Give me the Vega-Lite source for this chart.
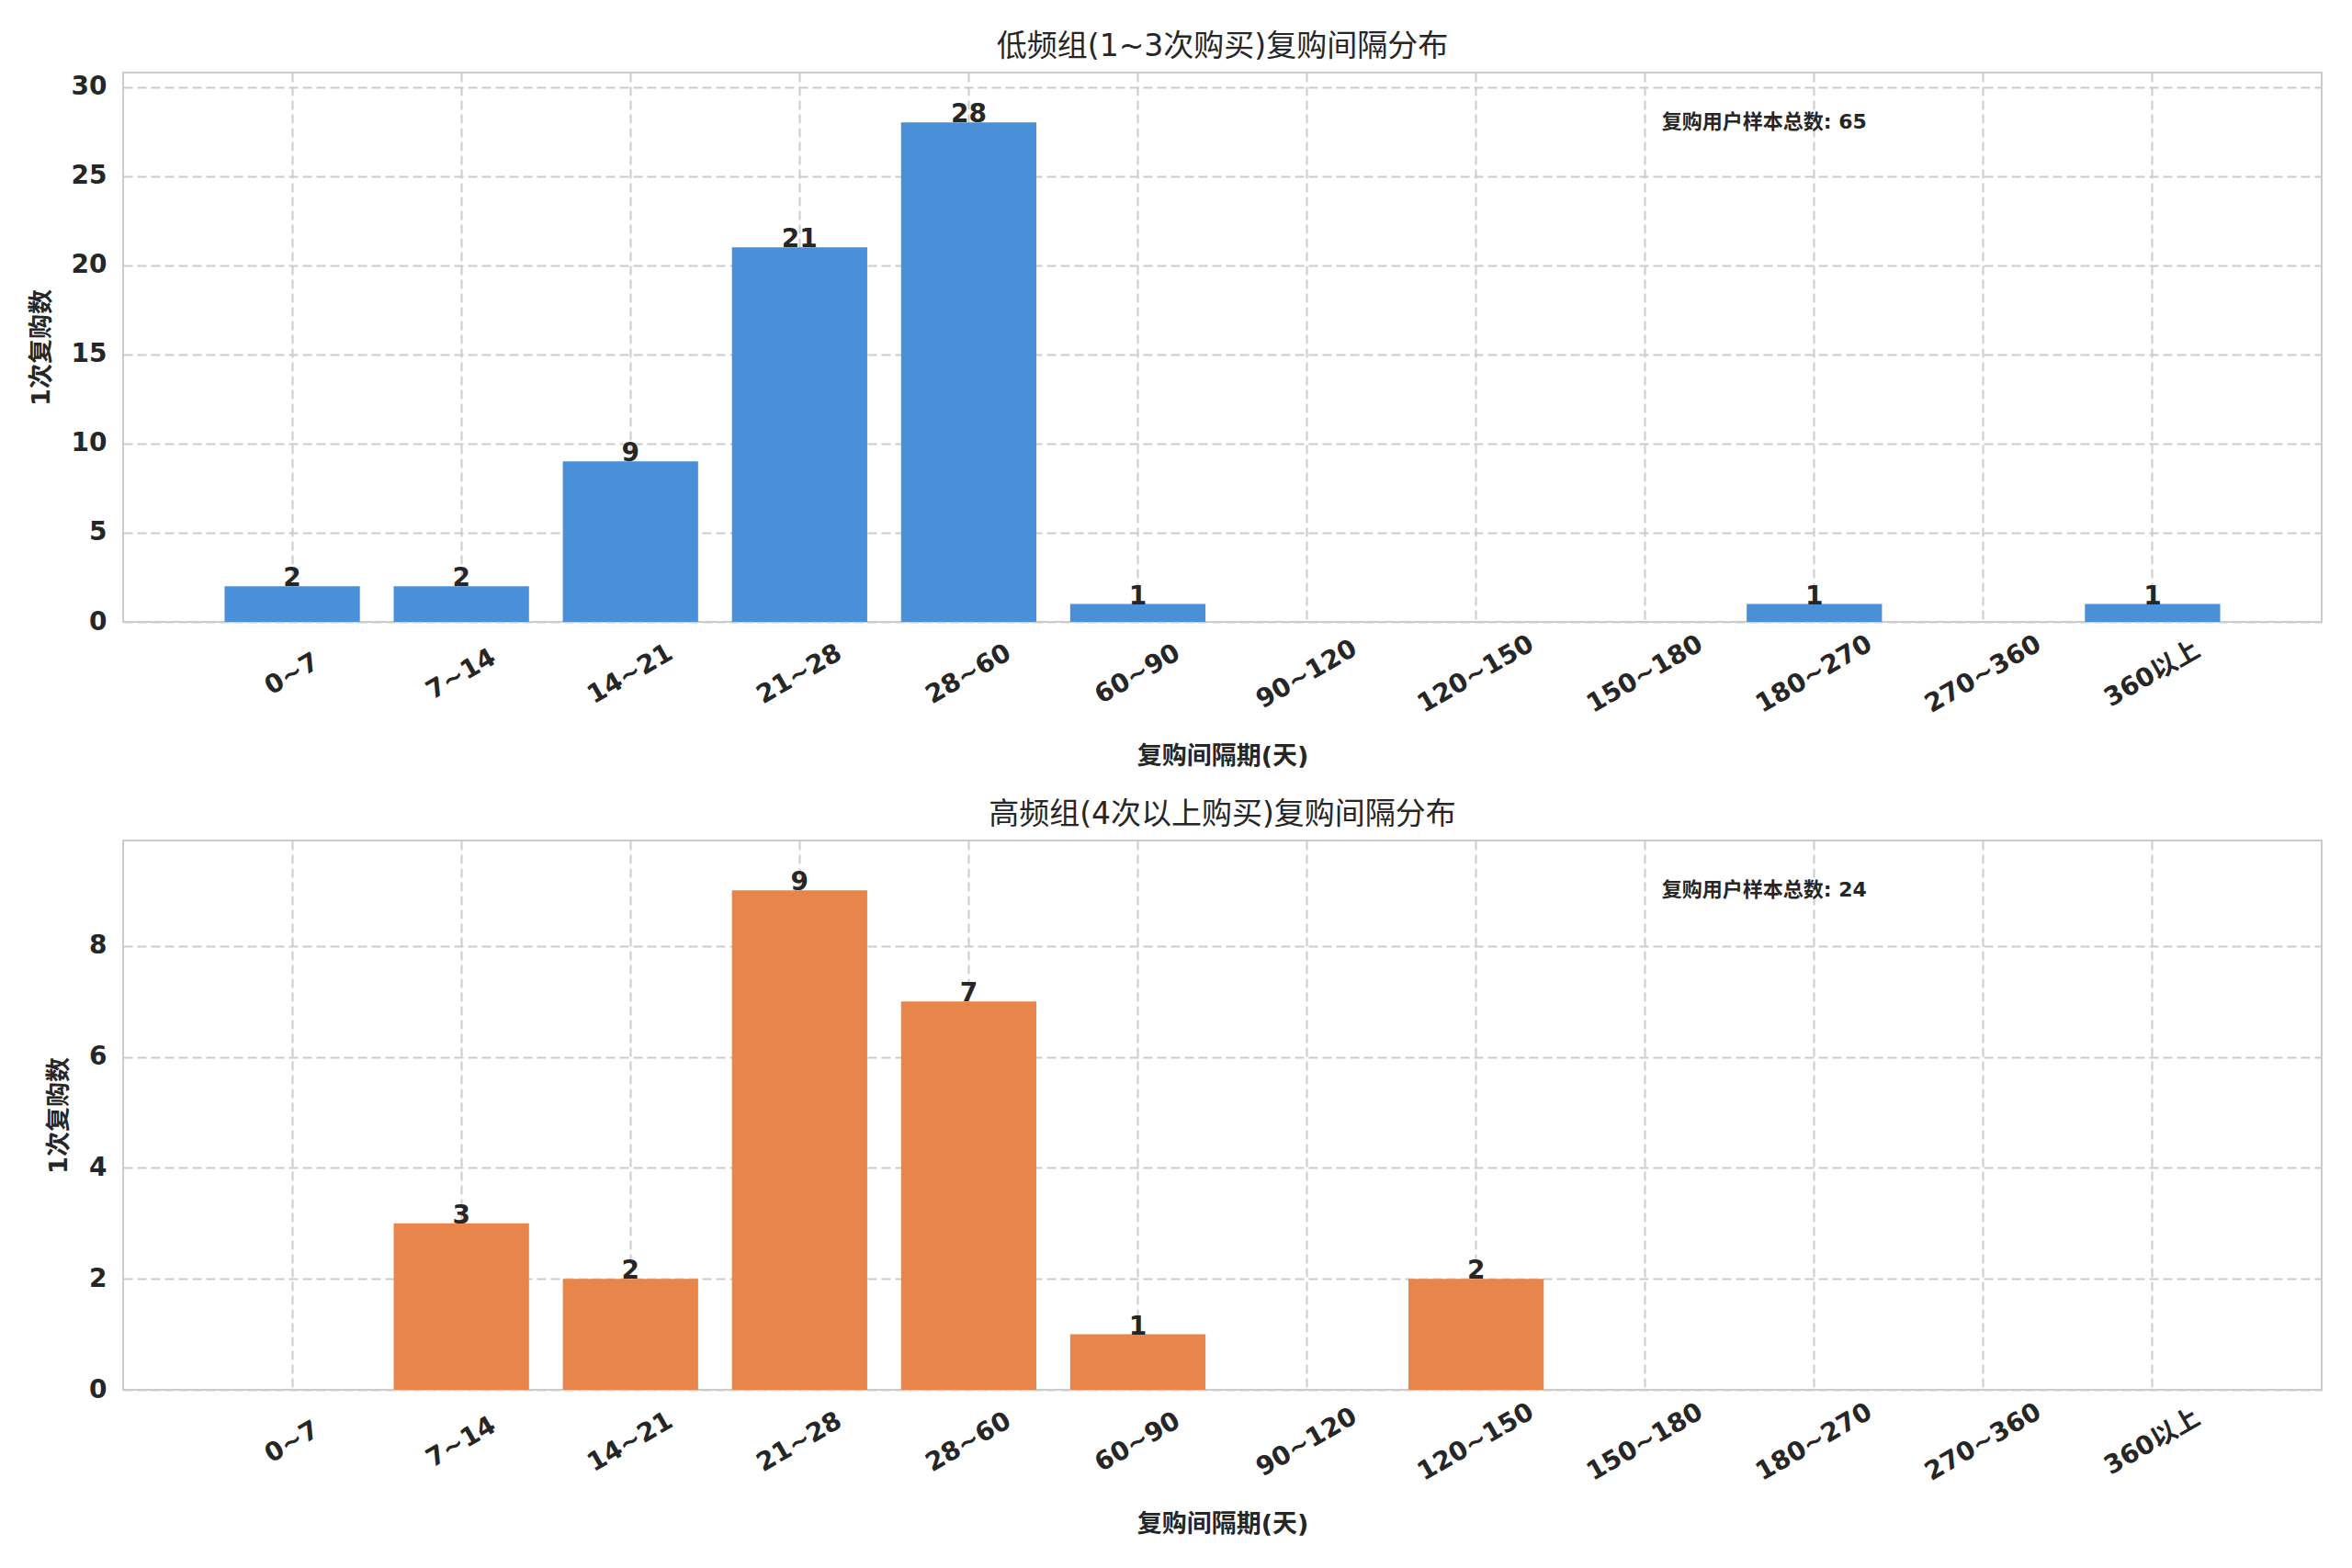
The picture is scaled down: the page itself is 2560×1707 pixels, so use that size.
{
  "$schema": "https://vega.github.io/schema/vega-lite/v6.json",
  "background": "white",
  "padding": {"left": 30, "top": 34, "right": 30, "bottom": 10},
  "spacing": 32,
  "vconcat": [
    {
      "title": {"text": "低频组(1~3次购买)复购间隔分布"},
      "width": 2393,
      "height": 598,
      "data": {
        "values": [
          {"interval": "0~7", "count": 2},
          {"interval": "7~14", "count": 2},
          {"interval": "14~21", "count": 9},
          {"interval": "21~28", "count": 21},
          {"interval": "28~60", "count": 28},
          {"interval": "60~90", "count": 1},
          {"interval": "90~120", "count": 0},
          {"interval": "120~150", "count": 0},
          {"interval": "150~180", "count": 0},
          {"interval": "180~270", "count": 1},
          {"interval": "270~360", "count": 0},
          {"interval": "360以上", "count": 1}
        ]
      },
      "encoding": {
        "x": {
          "field": "interval",
          "type": "nominal",
          "sort": null,
          "title": "复购间隔期(天)",
          "scale": {
            "domain": ["0~7", "7~14", "14~21", "21~28", "28~60", "60~90", "90~120", "120~150", "150~180", "180~270", "270~360", "360以上"],
            "paddingInner": 0.2,
            "paddingOuter": 0.6
          }
        },
        "y": {
          "field": "count",
          "type": "quantitative",
          "title": "1次复购数",
          "scale": {"domain": [0, 30.8], "nice": false},
          "axis": {"values": [0, 5, 10, 15, 20, 25, 30]}
        }
      },
      "layer": [
        {"mark": {"type": "bar", "color": "#4a90d9"}},
        {
          "transform": [{"filter": "datum.count > 0"}],
          "mark": {"type": "text", "baseline": "bottom", "dy": 6, "fontSize": 28, "fontWeight": "bold", "color": "#262626"},
          "encoding": {"text": {"field": "count", "type": "quantitative"}}
        },
        {
          "data": {"values": [{"interval": "150~180", "count": 28, "label": "复购用户样本总数: 65"}]},
          "mark": {"type": "text", "align": "left", "baseline": "middle", "dx": 18, "fontSize": 22, "fontWeight": "bold", "color": "#262626"},
          "encoding": {"text": {"field": "label"}}
        }
      ]
    },
    {
      "title": {"text": "高频组(4次以上购买)复购间隔分布"},
      "width": 2393,
      "height": 598,
      "data": {
        "values": [
          {"interval": "0~7", "count": 0},
          {"interval": "7~14", "count": 3},
          {"interval": "14~21", "count": 2},
          {"interval": "21~28", "count": 9},
          {"interval": "28~60", "count": 7},
          {"interval": "60~90", "count": 1},
          {"interval": "90~120", "count": 0},
          {"interval": "120~150", "count": 2},
          {"interval": "150~180", "count": 0},
          {"interval": "180~270", "count": 0},
          {"interval": "270~360", "count": 0},
          {"interval": "360以上", "count": 0}
        ]
      },
      "encoding": {
        "x": {
          "field": "interval",
          "type": "nominal",
          "sort": null,
          "title": "复购间隔期(天)",
          "scale": {
            "domain": ["0~7", "7~14", "14~21", "21~28", "28~60", "60~90", "90~120", "120~150", "150~180", "180~270", "270~360", "360以上"],
            "paddingInner": 0.2,
            "paddingOuter": 0.6
          }
        },
        "y": {
          "field": "count",
          "type": "quantitative",
          "title": "1次复购数",
          "scale": {"domain": [0, 9.9], "nice": false},
          "axis": {"values": [0, 2, 4, 6, 8]}
        }
      },
      "layer": [
        {"mark": {"type": "bar", "color": "#e8854a"}},
        {
          "transform": [{"filter": "datum.count > 0"}],
          "mark": {"type": "text", "baseline": "bottom", "dy": 6, "fontSize": 28, "fontWeight": "bold", "color": "#262626"},
          "encoding": {"text": {"field": "count", "type": "quantitative"}}
        },
        {
          "data": {"values": [{"interval": "150~180", "count": 9.0, "label": "复购用户样本总数: 24"}]},
          "mark": {"type": "text", "align": "left", "baseline": "middle", "dx": 18, "fontSize": 22, "fontWeight": "bold", "color": "#262626"},
          "encoding": {"text": {"field": "label"}}
        }
      ]
    }
  ],
  "config": {
    "font": "DejaVu Sans, Noto Sans CJK SC",
    "view": {"stroke": "#cccccc", "strokeWidth": 2},
    "title": {"fontSize": 33, "fontWeight": "normal", "color": "#262626", "anchor": "middle", "offset": 11},
    "axis": {
      "labelFont": "DejaVu Sans, Noto Sans CJK SC",
      "labelFontSize": 28,
      "labelFontWeight": "bold",
      "labelColor": "#262626",
      "titleFontSize": 27,
      "titleFontWeight": "bold",
      "titleColor": "#262626",
      "domain": false,
      "ticks": false,
      "grid": true,
      "gridColor": "#cccccc",
      "gridWidth": 2,
      "gridDash": [10, 5]
    },
    "axisX": {
      "labelAngle": -30,
      "labelAlign": "center",
      "labelBaseline": "middle",
      "labelPadding": 57,
      "titlePadding": 29,
      "bandPosition": 0.5
    },
    "axisY": {
      "labelPadding": 18,
      "titlePadding": 18
    }
  }
}
